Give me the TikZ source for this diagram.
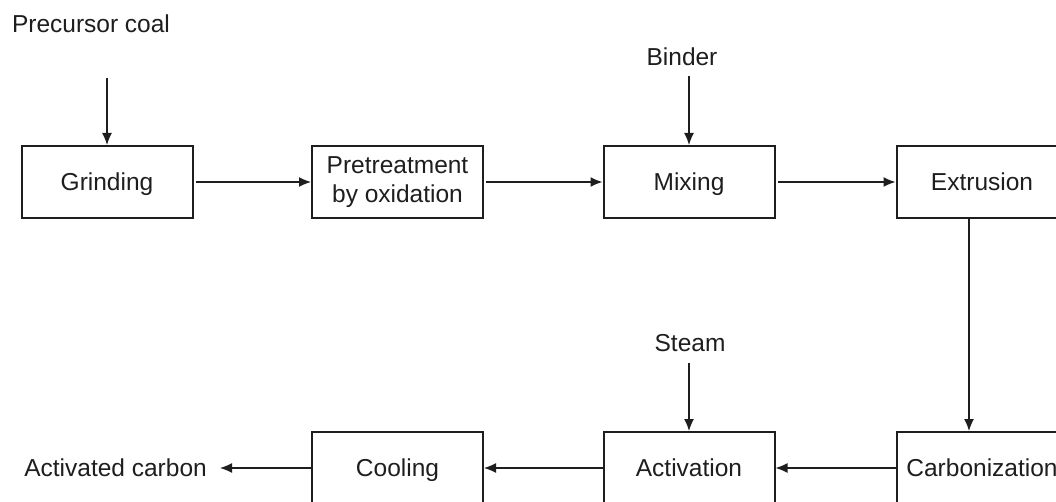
\documentclass[tikz,border=0pt]{standalone}
\usepackage{fontspec}
\setmainfont{Liberation Sans}
\usetikzlibrary{arrows.meta}
\definecolor{ink}{RGB}{30,30,30}
\begin{document}
\begin{tikzpicture}[x=1pt,y=-1pt,
  every node/.style={text=ink,font=\fontsize{24.5}{29}\selectfont},
  proc/.style={draw=ink,line width=2pt,minimum width=171pt,minimum height=72pt,inner sep=0pt,align=center},
  one/.style={text height=17.5pt,text depth=0pt},
  lbl/.style={inner sep=0pt,text height=17.5pt,text depth=0pt},
  flow/.style={draw=ink,line width=1.4pt,-{Latex[length=12pt,width=10pt]}}]
\useasboundingbox (0,0) rectangle (1056,502);
\clip (0,0) rectangle (1056,502);
\fill[white] (0,0) rectangle (1056,502);
% process boxes
\node[proc,one] (grind) at (107,182) {Grinding};
\node[proc] (pre) at (397.5,182) {Pretreatment\\by oxidation};
\node[proc,one] (mix) at (689,182) {Mixing};
\node[proc,one] (ext) at (982,182) {Extrusion};
\node[proc,one] (carb) at (982,468) {Carbonization};
\node[proc,one] (act) at (689,468) {Activation};
\node[proc,one] (cool) at (397.5,468) {Cooling};
% labels
\node[lbl] (pc) at (91,24) {Precursor coal};
\node[lbl] (bind) at (682,57) {Binder};
\node[lbl] (steam) at (690,343) {Steam};
\node[lbl,anchor=east] (ac) at (207,468) {Activated carbon};
% free ends
\coordinate (pcA) at (107,78);
\coordinate (bindA) at (689,76);
\coordinate (steamA) at (689,363);
\coordinate (acA) at (220,468);
% connectors
\draw[flow] (pcA) -- (grind.north);
\draw[flow] (bindA) -- (mix.north);
\draw[flow] (steamA) -- (act.north);
\draw[flow,shorten <=2pt] (grind.east) -- (pre.west);
\draw[flow,shorten <=2pt] (pre.east) -- (mix.west);
\draw[flow,shorten <=2pt] (mix.east) -- (ext.west);
\draw[flow] (ext.south -| 969,0) -- (carb.north -| 969,0);
\draw[flow] (carb.west) -- (act.east);
\draw[flow] (act.west) -- (cool.east);
\draw[flow] (cool.west) -- (acA);
\end{tikzpicture}
\end{document}
